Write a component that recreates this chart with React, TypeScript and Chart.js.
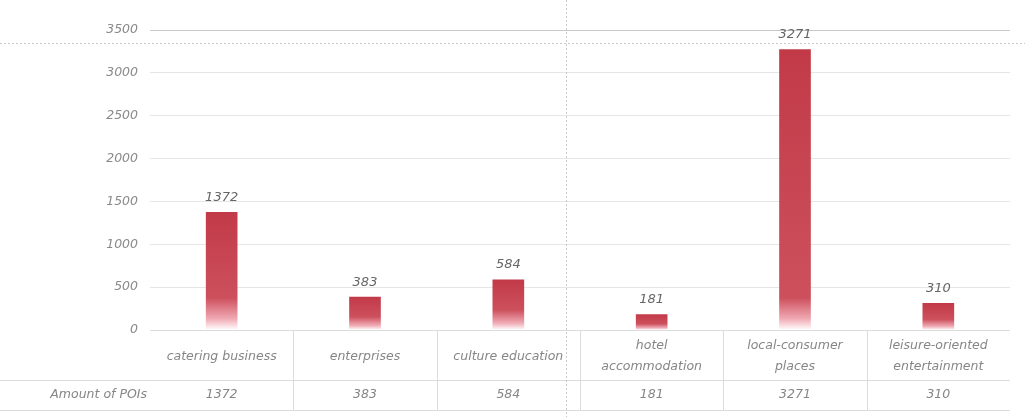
import React, { useEffect, useRef } from "react";
import { Chart, registerables } from "chart.js";

Chart.register(...registerables);

const categories: string[][] = [
  ["catering business"],
  ["enterprises"],
  ["culture education"],
  ["hotel", "accommodation"],
  ["local-consumer", "places"],
  ["leisure-oriented", "entertainment"],
];
const poiCounts: number[] = [1372, 383, 584, 181, 3271, 310];
const rowLabel = "Amount of POIs";
const yMax = 3500;
const yStep = 500;

const FONT = "'DejaVu Sans', sans-serif";
const TEXT = "#868686";

const tablePlugin = {
  id: "poiTable",
  afterDraw(chart: any) {
    const { ctx, chartArea } = chart;
    const left = chartArea.left;
    const right = chartArea.right;
    const n = categories.length;
    const colW = (right - left) / n;
    const top = chartArea.bottom;
    const mid = top + 50;
    const bot = top + 80;
    ctx.save();
    ctx.strokeStyle = "#dcdcdc";
    ctx.lineWidth = 1;
    ctx.beginPath();
    ctx.moveTo(left, top + 0.5);
    ctx.lineTo(right, top + 0.5);
    ctx.moveTo(0, mid + 0.5);
    ctx.lineTo(right, mid + 0.5);
    ctx.moveTo(0, bot + 0.5);
    ctx.lineTo(right, bot + 0.5);
    for (let i = 1; i < n; i++) {
      const x = Math.round(left + i * colW) + 0.5;
      ctx.moveTo(x, top);
      ctx.lineTo(x, bot);
    }
    ctx.stroke();

    ctx.fillStyle = TEXT;
    ctx.textAlign = "center";
    ctx.textBaseline = "middle";
    ctx.font = `italic 200 12.5px ${FONT}`;
    categories.forEach((lines, i) => {
      const cx = chart.scales.x.getPixelForValue(i);
      if (lines.length === 1) {
        ctx.fillText(lines[0], cx, top + 27);
      } else {
        ctx.fillText(lines[0], cx, top + 16);
        ctx.fillText(lines[1], cx, top + 37);
      }
      ctx.fillText(String(poiCounts[i]), cx, mid + 15);
    });
    ctx.textAlign = "right";
    ctx.fillText(rowLabel, left - 3, mid + 15);

    // fold / crease lines present in the picture
    ctx.strokeStyle = "#c8c8c8";
    ctx.setLineDash([2, 2]);
    ctx.beginPath();
    ctx.moveTo(0, 43.5);
    ctx.lineTo(chart.width, 43.5);
    ctx.moveTo(566.5, 0);
    ctx.lineTo(566.5, chart.height);
    ctx.stroke();
    ctx.restore();
  },
  afterDatasetsDraw(chart: any) {
    const { ctx } = chart;
    const meta = chart.getDatasetMeta(0);
    ctx.save();
    ctx.fillStyle = "#666";
    ctx.textAlign = "center";
    ctx.textBaseline = "middle";
    ctx.font = `italic 200 13px ${FONT}`;
    meta.data.forEach((el: any, i: number) => {
      ctx.fillText(String(poiCounts[i]), el.x, el.y - 15);
    });
    ctx.restore();
  },
};

export default function App() {
  const ref = useRef<HTMLCanvasElement | null>(null);
  useEffect(() => {
    document.body.style.margin = "0";
    const canvas = ref.current!;
    const chart = new Chart(canvas, {
      type: "bar",
      data: {
        labels: categories.map((c) => c.join(" ")),
        datasets: [
          {
            data: poiCounts,
            barThickness: 31,
            backgroundColor: (c: any) => {
              const area = c.chart.chartArea;
              const ys = c.chart.scales && c.chart.scales.y;
              if (!area || !ys || c.parsed == null) return "#c84854";
              const yTop = ys.getPixelForValue(c.parsed.y);
              const yBot = area.bottom;
              const h = Math.max(1, yBot - yTop);
              const fade = Math.min(32, h * 0.4);
              const g = c.chart.ctx.createLinearGradient(0, yTop, 0, yBot);
              g.addColorStop(0, "#c23a48");
              g.addColorStop(Math.max(0.01, 1 - fade / h), "#cd505d");
              g.addColorStop(Math.max(0.02, 1 - (fade * 0.35) / h), "#f0aab4");
              g.addColorStop(1, "#ffffff");
              return g;
            },
            borderWidth: 0,
          },
        ],
      },
      options: {
        animation: false,
        responsive: true,
        maintainAspectRatio: false,
        layout: { padding: { top: 30, right: 15, bottom: 87, left: 0 } },
        plugins: { legend: { display: false }, tooltip: { enabled: false } },
        scales: {
          x: { display: false },
          y: {
            min: 0,
            max: yMax,
            ticks: {
              stepSize: yStep,
              color: "#8a8a8a",
              padding: 12,
              callback: (v: any) => String(v),
              font: { family: FONT, style: "italic", size: 12.5, weight: 200 as any },
            },
            grid: {
              color: (c: any) => (c.tick && c.tick.value === yMax ? "#c8c8c8" : "#e6e6e6"),
              drawTicks: false,
            },
            border: { display: false },
            afterFit: (s: any) => {
              s.width = 150;
            },
          },
        },
      },
      plugins: [tablePlugin],
    });
    return () => chart.destroy();
  }, []);
  return (
    <div style={{ width: 1025, height: 417, position: "relative", background: "#fff" }}>
      <canvas ref={ref} />
    </div>
  );
}
